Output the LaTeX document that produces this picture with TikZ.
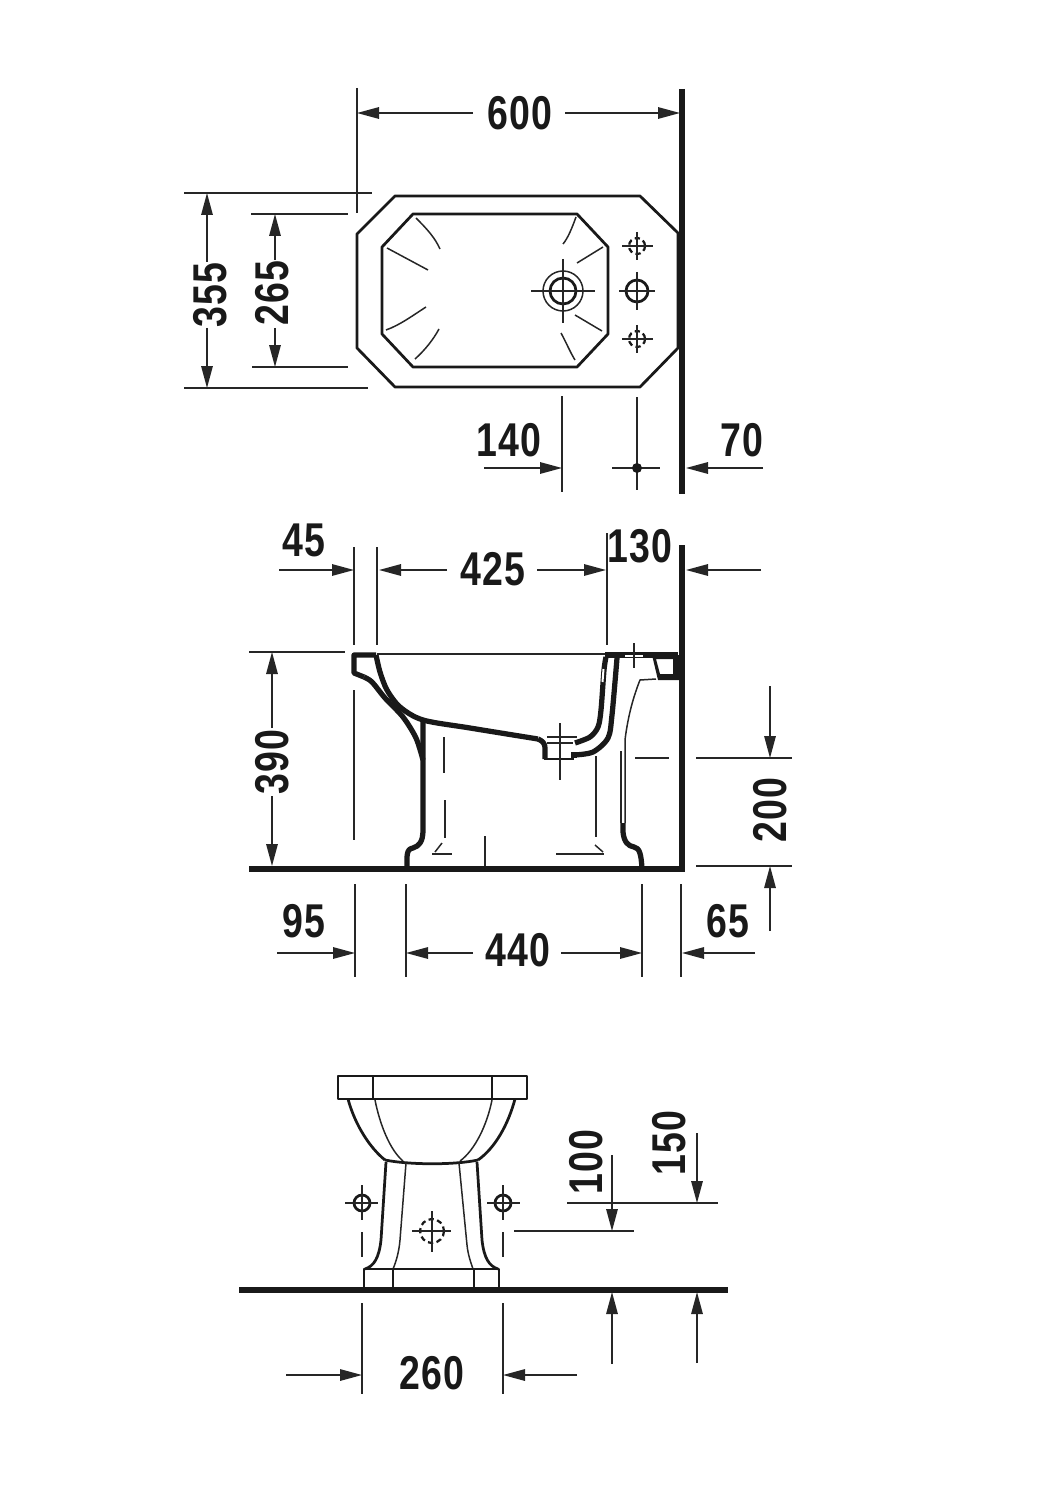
\documentclass[tikz,border=0pt]{standalone}
\usepackage{fontspec}
\setmainfont{Liberation Sans}
\usetikzlibrary{arrows.meta}
\tikzset{
	thinl/.style = {line width = 0.03cm, black!85},
	outl/.style = {line width = 0.055cm, black!90, line join = round},
	heavy/.style = {line width = 0.105cm, black!90, line join = round},
	wall/.style = {line width = 0.125cm, black!90},
	dim/.style = {thinl, -{Stealth[length = 0.44cm, width = 0.23cm, inset = 0pt]}},
	dimtext/.style = {font = \bfseries\fontsize{27}{27}\selectfont\addfontfeature{LetterSpace = 4}, xscale = 0.79, inner sep = 0pt, black!90},
	dimtextv/.style = {rotate = 90, dimtext},
	holedash/.style = {line width = 0.045cm, densely dashed, black!90}
}
\begin{document}
\begin{tikzpicture}[x = 0.02cm, y = -0.02cm]
	\useasboundingbox (0, 0) rectangle (1057, 1500);
	% top view
	\draw[wall] (682, 89) -- (682, 494);
	\draw[outl] (395, 196) -- (640, 196) -- (678, 233) -- (678, 348) -- (640, 387) -- (395, 387) -- (357, 348) -- (357, 234) -- cycle;
	\draw[outl] (413, 214) -- (577, 214) -- (608, 247) -- (608, 334) -- (577, 367) -- (413, 367) -- (382, 334) -- (382, 247) -- cycle;
	\draw[thinl] (416, 218) .. controls (428, 230) and (435, 238) .. (440, 249);
	\draw[thinl] (387, 248) -- (428, 270);
	\draw[thinl] (426, 307) .. controls (412, 316) and (400, 325) .. (386, 330);
	\draw[thinl] (439, 329) .. controls (433, 340) and (425, 350) .. (415, 359);
	\draw[thinl] (576, 217) .. controls (572, 228) and (568, 238) .. (563, 244);
	\draw[thinl] (603, 247) -- (577, 263);
	\draw[thinl] (575, 315) -- (602, 331);
	\draw[thinl] (561, 333) .. controls (566, 342) and (570, 352) .. (575, 360);
	% tap hole
	\draw[thinl] (563, 291) circle[radius = 20];
	\draw[outl] (563, 291) circle[radius = 13];
	\draw[thinl] (531, 291) -- (595, 291);
	\draw[thinl] (563, 259) -- (563, 323);
	\draw[outl] (637, 291) circle[radius = 11];
	\draw[thinl] (619, 291) -- (655, 291);
	\draw[thinl] (637, 272) -- (637, 310);
	\foreach \y in {246, 339} {
		\draw[holedash] (637, \y) circle[radius = 8];
		\draw[thinl] (622, \y) -- (653, \y);
		\draw[thinl] (637, \y - 14) -- (637, \y + 14);
	}
	% 600
	\draw[thinl] (357, 88) -- (357, 213);
	\node[dimtext] (dimA) at (520, 113) {600};
	\draw[dim] (473, 113) -- (357, 113);
	\draw[dim] (565, 113) -- (680, 113);
	% 355
	\draw[thinl] (184, 193) -- (372, 193);
	\draw[thinl] (184, 388) -- (368, 388);
	\node[dimtextv] (dimB) at (210, 295) {355};
	\draw[dim] (207, 262) -- (207, 193);
	\draw[dim] (207, 328) -- (207, 388);
	% 265
	\draw[thinl] (251, 214) -- (348, 214);
	\draw[thinl] (252, 367) -- (348, 367);
	\node[dimtextv] (dimC) at (272, 293) {265};
	\draw[dim] (275, 260) -- (275, 214);
	\draw[dim] (275, 328) -- (275, 367);
	% 140, 70
	\draw[thinl] (562, 396) -- (562, 492);
	\draw[thinl] (637, 397) -- (637, 490);
	\draw[thinl] (612, 468) -- (660, 468);
	\fill[black!90] (637, 468) circle[radius = 5];
	\node[dimtext] (dimD) at (509, 440) {140};
	\draw[dim] (484, 468) -- (562, 468);
	\node[dimtext] (dimE) at (742, 440) {70};
	\draw[dim] (763, 468) -- (686, 468);
	% section
	\draw[wall] (682, 545) -- (682, 872);
	\draw[wall] (249, 869) -- (684, 869);
	\draw[thinl] (377, 654) -- (607, 654);
	% left rim and body
	\draw[heavy] (376, 655) -- (354, 655) -- (354, 673) -- (364, 677);
	\draw[heavy] plot[smooth] coordinates {(364, 677) (372, 682) (385, 698) (403, 717) (416, 738) (423, 760)};
	\draw[heavy] (423, 722) -- (423, 830) .. controls (423, 842) and (419, 846) .. (413, 848) .. controls (406, 849) and (407, 856) .. (407, 868);
	\draw[heavy] plot[smooth] coordinates {(376, 655) (380, 672) (387, 690) (400, 707) (423, 720) (470, 728) (538, 739)};
	\draw[heavy] (538, 739) .. controls (543, 741) and (545, 744) .. (545, 748) -- (545, 759);
	% outlet
	\draw[outl] (544, 759) -- (574, 759);
	\draw[thinl] (547, 737) -- (577, 737);
	\draw[thinl] (547, 743) -- (573, 743);
	\draw[heavy] (574, 752) -- (574, 758);
	% right wall of the bowl
	\draw[heavy] plot[smooth] coordinates {(575, 743) (590, 737) (598, 727) (601, 710) (604, 670) (606, 657)};
	\draw[heavy] plot[smooth] coordinates {(574, 755) (593, 752) (608, 738) (612, 715) (617, 658)};
	\draw[heavy] (605, 655) -- (678, 655);
	\draw[white, line width = 0.04cm] (603.5, 669) -- (602.5, 682);
	\draw[white, line width = 0.05cm] (625, 656) -- (643, 656);
	% back block
	\fill[black!90, even odd rule] (652, 655) -- (680, 655) -- (680, 680) -- (658, 680) -- cycle (656, 659) -- (673, 659) -- (673, 674) -- (660, 674) -- cycle;
	\draw[thinl] (656, 679) -- (640, 680) .. controls (634, 695) and (628, 715) .. (625, 740) -- (625, 823);
	\draw[thinl] (621, 751) -- (621, 823);
	\draw[heavy] (623, 823) -- (623, 832) .. controls (624, 842) and (628, 846) .. (634, 847) .. controls (640, 848) and (641, 855) .. (642, 868);
	% section detail lines
	\draw[thinl] (444, 737) -- (444, 773);
	\draw[thinl] (445, 800) -- (445, 838);
	\draw[thinl] (442, 843) -- (435, 852);
	\draw[thinl] (432, 854) -- (452, 854);
	\draw[thinl] (485, 836) -- (485, 866);
	\draw[thinl] (556, 854) -- (604, 854);
	\draw[thinl] (595, 845) -- (603, 852);
	\draw[thinl] (596, 756) -- (596, 837);
	\draw[thinl] (635, 758) -- (669, 758);
	\draw[thinl] (560, 723) -- (560, 780);
	\draw[thinl] (634, 643) -- (634, 668);
	\draw[thinl] (354, 690) -- (354, 840);
	% 45, 425, 130
	\draw[thinl] (354, 547) -- (354, 645);
	\draw[thinl] (377, 547) -- (377, 645);
	\draw[thinl] (607, 533) -- (607, 645);
	\node[dimtext] (dimF) at (304, 540) {45};
	\draw[dim] (279, 570) -- (354, 570);
	\node[dimtext] (dimG) at (493, 569) {425};
	\draw[dim] (447, 570) -- (379, 570);
	\draw[dim] (537, 570) -- (606, 570);
	\node[dimtext] (dimH) at (640, 546) {130};
	\draw[dim] (761, 570) -- (686, 570);
	% 390
	\draw[thinl] (249, 652) -- (345, 652);
	\node[dimtextv] (dimI) at (272, 762) {390};
	\draw[dim] (272, 728) -- (272, 652);
	\draw[dim] (272, 796) -- (272, 866);
	% 95, 440, 65
	\foreach \x in {355, 406, 642, 681} {
		\draw[thinl] (\x, 884) -- (\x, 977);
	}
	\node[dimtext] (dimJ) at (304, 921) {95};
	\draw[dim] (277, 953) -- (355, 953);
	\node[dimtext] (dimK) at (518, 950) {440};
	\draw[dim] (473, 953) -- (406, 953);
	\draw[dim] (561, 953) -- (642, 953);
	\node[dimtext] (dimL) at (728, 921) {65};
	\draw[dim] (755, 953) -- (682, 953);
	% 200
	\draw[thinl] (696, 758) -- (792, 758);
	\draw[thinl] (696, 866) -- (792, 866);
	\node[dimtextv] (dimM) at (770, 810) {200};
	\draw[dim] (770, 686) -- (770, 758);
	\draw[dim] (770, 931) -- (770, 866);
	% front view
	\draw[wall] (239, 1290) -- (728, 1290);
	\draw[outl] (338, 1076) rectangle (527, 1099);
	\draw[outl] (373, 1076) -- (373, 1099);
	\draw[outl] (492, 1076) -- (492, 1099);
	\draw[outl] (348, 1099) .. controls (355, 1125) and (370, 1148) .. (385, 1160);
	\draw[outl] (515, 1099) .. controls (508, 1125) and (495, 1148) .. (478, 1160);
	\draw[thinl] (375, 1100) .. controls (380, 1125) and (390, 1150) .. (403, 1161);
	\draw[thinl] (492, 1100) .. controls (487, 1125) and (475, 1150) .. (460, 1161);
	\draw[outl] (385, 1160) .. controls (410, 1165) and (455, 1165) .. (478, 1160);
	\draw[outl] (386, 1162) -- (381, 1240) .. controls (379, 1258) and (374, 1266) .. (365, 1269);
	\draw[outl] (477, 1162) -- (482, 1240) .. controls (484, 1258) and (489, 1266) .. (498, 1269);
	\draw[thinl] (406, 1163) -- (400, 1240) .. controls (399, 1252) and (396, 1262) .. (393, 1269);
	\draw[thinl] (459, 1163) -- (467, 1245) .. controls (468, 1255) and (471, 1263) .. (473, 1269);
	\draw[outl] (364, 1269) rectangle (499, 1288);
	\draw[outl] (393, 1269) -- (393, 1288);
	\draw[outl] (474, 1269) -- (474, 1288);
	% front view holes
	\foreach \x/\xa/\xb in {362/345/378, 503/487/520} {
		\draw[outl] (\x, 1203) circle[radius = 8];
		\draw[thinl] (\xa, 1203) -- (\xb, 1203);
		\draw[thinl] (\x, 1185) -- (\x, 1220);
		\draw[thinl] (\x, 1232) -- (\x, 1257);
	}
	\draw[holedash] (432, 1231) circle[radius = 12];
	\draw[thinl] (412, 1231) -- (451, 1231);
	\draw[thinl] (432, 1211) -- (432, 1252);
	% 100, 150
	\draw[thinl] (567, 1203) -- (718, 1203);
	\draw[thinl] (514, 1231) -- (634, 1231);
	\node[dimtextv] (dimN) at (586, 1162) {100};
	\draw[dim] (612, 1155) -- (612, 1231);
	\draw[dim] (612, 1364) -- (612, 1292);
	\node[dimtextv] (dimO) at (669, 1143) {150};
	\draw[dim] (697, 1133) -- (697, 1203);
	\draw[dim] (697, 1363) -- (697, 1292);
	% 260
	\draw[thinl] (362, 1303) -- (362, 1394);
	\draw[thinl] (503, 1303) -- (503, 1394);
	\node[dimtext] (dimP) at (432, 1373) {260};
	\draw[dim] (286, 1375) -- (362, 1375);
	\draw[dim] (577, 1375) -- (503, 1375);
\end{tikzpicture}
\end{document}
